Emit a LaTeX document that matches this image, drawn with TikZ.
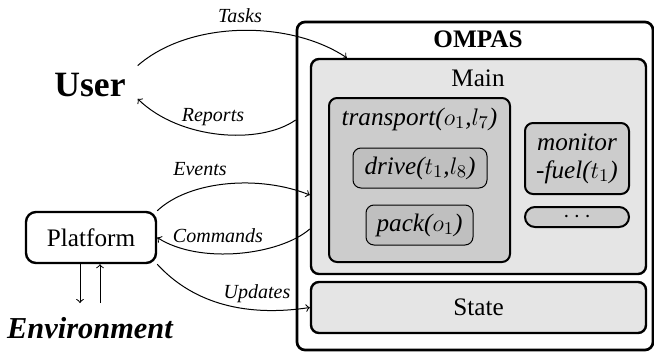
\documentclass[tikz,border=0pt]{standalone}
\usepackage{fontspec}
\setmainfont{Liberation Serif}
\usetikzlibrary{shapes,arrows}
\tikzstyle{block} = [rectangle, draw, rounded corners=4pt, align=center, inner sep=0pt]
\tikzstyle{outerbox} = [block, line width=1.35pt, fill=white]
\tikzstyle{layerbox} = [block, line width=1.2pt, fill=black!10]
\tikzstyle{taskbox} = [block, line width=1pt, fill=black!20]
\tikzstyle{subbox} = [block, line width=0.5pt, fill=black!25]
\tikzstyle{arrow} = [draw, ->, line width=0.5pt]
\tikzstyle{flowlabel} = [font=\fontsize{10}{12}\selectfont\itshape, anchor=base]
\newcommand{\boxfont}{\fontsize{12.6}{15}\selectfont}

\begin{document}
\begin{tikzpicture}[x=0.5pt, y=-0.5pt, font=\boxfont]
\useasboundingbox (0,0) rectangle (654,354);

%% OMPAS
\node[outerbox, minimum width=178pt, minimum height=164pt] at (475,186) (ompas) {};
\node[anchor=base, font=\boxfont\bfseries] at (478,47) (ompaslabel) {OMPAS};

%% main with its tasks
\node[layerbox, minimum width=167.5pt, minimum height=107.5pt] at (478.5,166.5) (main) {};
\node[anchor=base] at (478,86) (mainlabel) {Main};

\node[taskbox, minimum width=90.5pt, minimum height=82pt] at (419.5,180) (transport) {};
\node[anchor=base] at (419.5,125) (transportlabel) {\textit{transport(\(o_1\),\(l_7\))}};
\node[subbox, minimum width=67pt, minimum height=20pt] at (420,168) (drive) {\textit{drive(\(t_1\),\(l_8\))}};
\node[subbox, minimum width=53.5pt, minimum height=20pt] at (419.5,225) (pack) {\textit{pack(\(o_1\))}};

\node[taskbox, minimum width=52pt, minimum height=35.5pt, font=\fontsize{12.6}{14}\selectfont] at (577,158.5) (monitor) {\textit{monitor}\\\textit{-fuel(\(t_1\))}};
\node[taskbox, rounded corners=5pt, minimum width=52pt, minimum height=10pt] at (577,217) (others) {\(\cdots\)};

%% state
\node[layerbox, minimum width=167.5pt, minimum height=25.5pt] at (478.5,307.5) (state) {State};

%% user, platform, environment
\node[anchor=base, font=\fontsize{17.8}{20}\selectfont\bfseries] at (90,96) (user) {User};
\node[block, line width=1.2pt, rounded corners=5pt, minimum width=65pt, minimum height=25.5pt] at (91,237.5) (platform) {Platform};
\node[anchor=base, font=\fontsize{15.2}{18}\selectfont\bfseries\itshape] at (90,338) (env) {Environment};
\coordinate (envtop) at (91,303);

%% flows
\path[arrow] ([xshift=2.5pt]user.north east) .. controls (190,20) and (290,20) .. ([xshift=18.5pt]main.north west);
\node[flowlabel] at (240,22) (taskslabel) {Tasks};

\path[arrow] ([yshift=33pt]ompas.west) .. controls (260,145) and (180,140) .. ([xshift=2.5pt,yshift=2.3pt]user.south east);
\node[flowlabel] at (213,121) (reportslabel) {Reports};

\path[arrow] (platform.north east) .. controls (190,180) and (260,175) .. ([yshift=-14.25pt]main.west);
\node[flowlabel] at (200,175) (eventslabel) {Events};

\path[arrow] ([yshift=-31.25pt]main.west) .. controls (280,255) and (200,265) .. (platform.east);
\node[flowlabel] at (218,242) (commandslabel) {Commands};

\path[arrow] (platform.south east) .. controls (190,300) and (240,318) .. (state.west);
\node[flowlabel] at (257,298) (updateslabel) {Updates};

\path[arrow] ([xshift=-5.5pt]platform.south) -- ([xshift=-5.5pt]envtop);
\path[arrow] ([xshift=4.5pt]envtop) -- ([xshift=4.5pt]platform.south);

\end{tikzpicture}
\end{document}
